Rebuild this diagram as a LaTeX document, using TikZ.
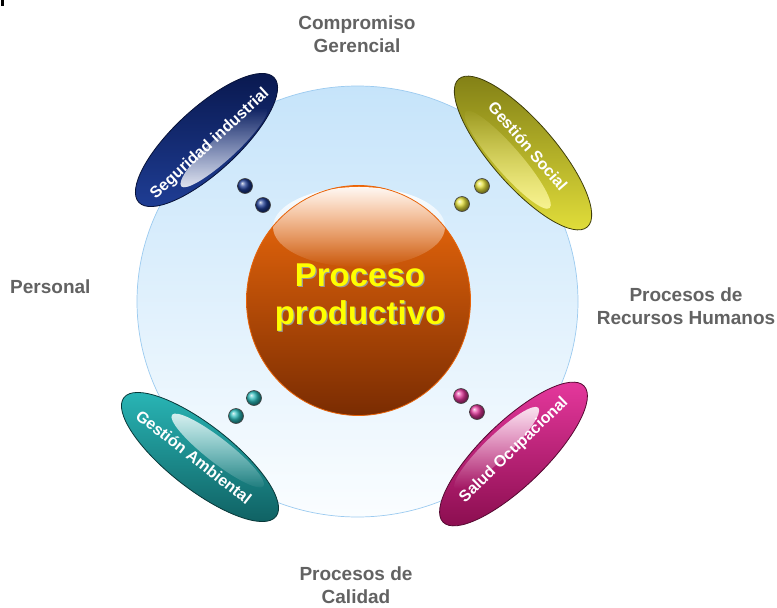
\documentclass[tikz,border=0pt]{standalone}
\usepackage{fontspec}
\setmainfont{Liberation Sans}
\usetikzlibrary{fadings}

\definecolor{skyrim}{HTML}{9CCBF0}
\definecolor{skytop}{HTML}{C6E4FA}
\definecolor{skybot}{HTML}{FAFDFF}
\definecolor{orangetop}{HTML}{F26C0C}
\definecolor{orangemid}{HTML}{D25A04}
\definecolor{orangebot}{HTML}{7A2C02}
\definecolor{orangerim}{HTML}{E8640A}
\definecolor{labelgray}{HTML}{626262}
\definecolor{navydark}{HTML}{0A1A52}
\definecolor{navylight}{HTML}{1E3C92}
\definecolor{olivedark}{HTML}{7E7C14}
\definecolor{olivelight}{HTML}{E6E23C}
\definecolor{tealdark}{HTML}{0E5C5E}
\definecolor{teallight}{HTML}{2ABABA}
\definecolor{magdark}{HTML}{8E0F52}
\definecolor{maglight}{HTML}{E2369A}
\definecolor{coreyellow}{HTML}{FFFF00}

% soft glows: opaque on one side, clear on the other
\tikzfading[name=glowlow, top color=transparent!100, bottom color=transparent!15]
\tikzfading[name=glowhigh, top color=transparent!15, bottom color=transparent!100]
\tikzfading[name=glosscap, top color=transparent!5, bottom color=transparent!100]

\tikzset{
  sidetext/.style={text=labelgray, font=\bfseries\fontsize{19}{23}\selectfont,
    align=center, inner sep=0pt},
  ovaltext/.style={text=white, font=\bfseries\fontsize{16}{18}\selectfont,
    inner sep=0pt},
  coretext/.style={font=\bfseries\fontsize{33}{38}\selectfont, align=center,
    inner sep=0pt},
  bead/.style={shade, shading=ball, draw=black!75, line width=0.6pt},
  ovalrim/.style={line width=0.8pt},
}

\begin{document}
\begin{tikzpicture}[x=1pt,y=1pt]
  \fill[white] (0,0) rectangle (777,-608);
  \useasboundingbox (0,0) rectangle (777,-608);
  \fill[black] (1,0) rectangle (4,-6);

  % pale backdrop disc
  \shade[top color=skytop, bottom color=skybot] (357.5,-301.5) ellipse (220.5 and 215.5);
  \draw[skyrim, line width=0.7pt] (357.5,-301.5) ellipse (220.5 and 215.5);

  % central sphere
  \shade[top color=orangetop, middle color=orangemid, bottom color=orangebot]
    (358.5,-300.5) ellipse (112 and 115);
  \fill[white, path fading=glosscap] (359,-227) ellipse (86 and 40);
  \draw[orangerim, line width=0.8pt] (358.5,-300.5) ellipse (112 and 115);
  \node[coretext, text=black!40] (coreshadow) at (361.3,-299) {Proceso\\productivo};
  \node[coretext, text=coreyellow] (core) at (360,-297.7) {Proceso\\productivo};

  % Seguridad industrial
  \begin{scope}[shift={(206.5,-140)}, rotate=42.6]
    \shade[top color=navydark, bottom color=navylight] (0,0) ellipse (92 and 32);
    \fill[white, path fading=glowlow] (8,-17) ellipse (58 and 12);
    \draw[ovalrim, navydark!70!black] (0,0) ellipse (92 and 32);
  \end{scope}
  \node[ovaltext, rotate=42.6] (seg) at (210,-144) {Seguridad industrial};

  % Gestión Social
  \begin{scope}[shift={(523,-153)}, rotate=-49]
    \shade[top color=olivedark, bottom color=olivelight] (0,0) ellipse (98 and 32);
    \fill[yellow!35!white, path fading=glowlow] (-5,-16) ellipse (64 and 13);
    \draw[ovalrim, olivedark!50!black] (0,0) ellipse (98 and 32);
  \end{scope}
  \node[ovaltext, rotate=-49] (soc) at (528,-146) {Gestión Social};

  % Gestión Ambiental
  \begin{scope}[shift={(200,-457)}, rotate=-38]
    \shade[top color=teallight, bottom color=tealdark] (0,0) ellipse (96.5 and 32);
    \fill[white, path fading=glowhigh] (10,16) ellipse (58 and 12);
    \draw[ovalrim, tealdark!60!black] (0,0) ellipse (96.5 and 32);
  \end{scope}
  \node[ovaltext, rotate=-38] (amb) at (194,-457) {Gestión Ambiental};

  % Salud Ocupacional
  \begin{scope}[shift={(513.5,-454)}, rotate=44]
    \shade[top color=maglight, bottom color=magdark] (0,0) ellipse (98 and 32);
    \fill[white, path fading=glowhigh] (-8,16) ellipse (58 and 12);
    \draw[ovalrim, magdark!60!black] (0,0) ellipse (98 and 32);
  \end{scope}
  \node[ovaltext, rotate=44] (sal) at (514,-450) {Salud Ocupacional};

  % bead pairs
  \path[bead, ball color=navylight] (245,-186) circle (7.5);
  \path[bead, ball color=navylight] (263,-205) circle (7.5);
  \path[bead, ball color=olivelight] (482,-186) circle (7.5);
  \path[bead, ball color=olivelight] (462,-204) circle (7.5);
  \path[bead, ball color=teallight] (254,-398) circle (7.5);
  \path[bead, ball color=teallight] (236,-416) circle (7.5);
  \path[bead, ball color=maglight] (461,-396) circle (7.5);
  \path[bead, ball color=maglight] (477,-412) circle (7.5);

  % surrounding labels
  \node[sidetext] (top) at (357,-34.6) {Compromiso\\Gerencial};
  \node[sidetext, anchor=base west] (left) at (10,-293) {Personal};
  \node[sidetext] (right) at (686,-306.1) {Procesos de\\Recursos Humanos};
  \node[sidetext] (bottom) at (356,-585.4) {Procesos de\\Calidad};
\end{tikzpicture}
\end{document}
